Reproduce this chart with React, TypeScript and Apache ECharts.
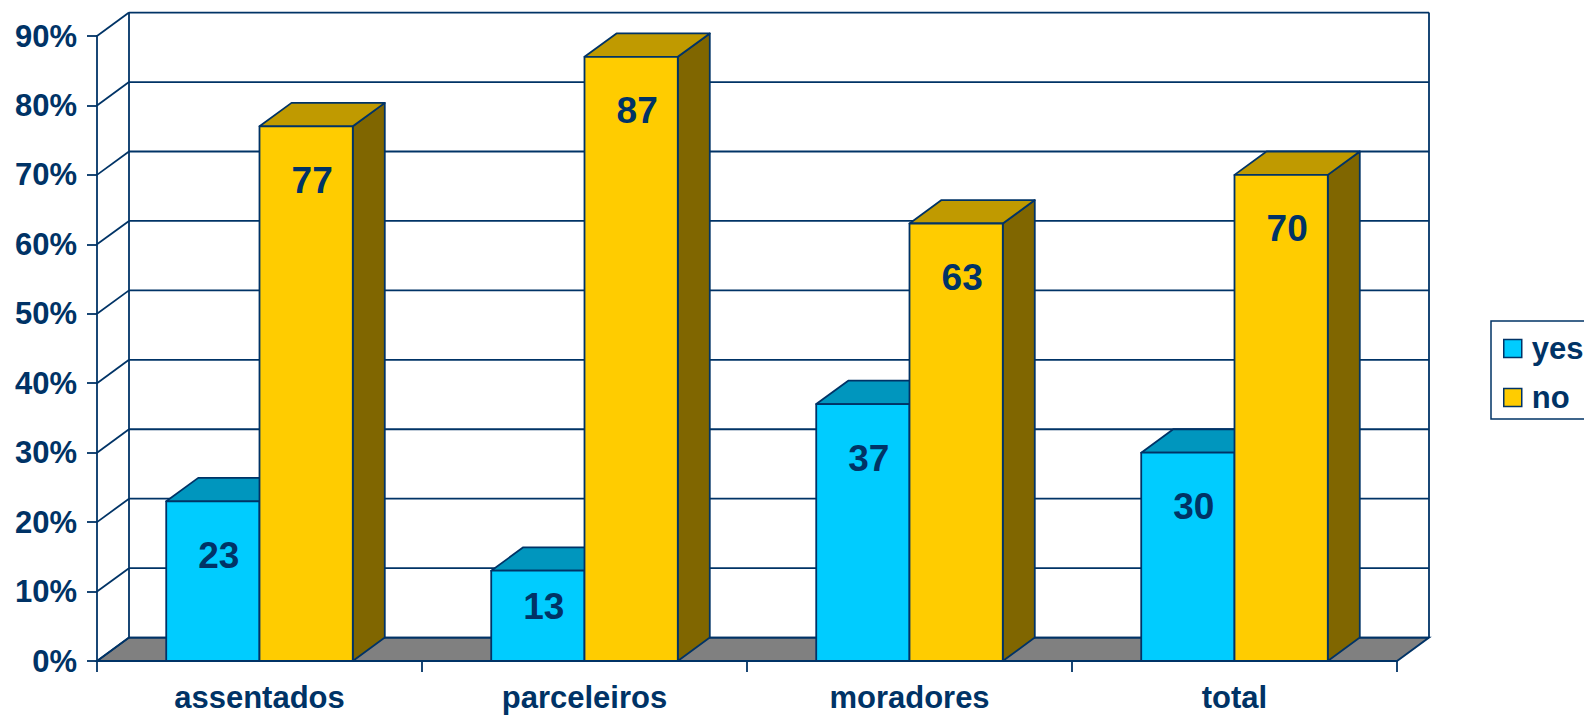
import React, { useEffect, useRef } from "react";
import * as echarts from "echarts";

const categories = ["assentados", "parceleiros", "moradores", "total"];
const yesValues = [23, 13, 37, 30];
const noValues = [77, 87, 63, 70];
const yTicks = [0, 10, 20, 30, 40, 50, 60, 70, 80, 90];
const seriesNames = ["yes", "no"];

const NAVY = "#003366";
const FONT = "'Liberation Sans', Arial, sans-serif";
const DX = 32;
const DY = -23.4;
const BAR_RATIO = 0.287;
const LW = 1.8;

function makeBarRender(side: number, front: string, top: string, sideCol: string) {
  return (params: any, api: any) => {
    const idx = api.value(0);
    const val = api.value(1);
    const tp = api.coord([idx, val]);
    const bp = api.coord([idx, 0]);
    const band = api.size([1, 0])[0];
    const w = band * BAR_RATIO;
    const xL = side === 0 ? tp[0] - w : tp[0];
    const xR = xL + w;
    const yT = tp[1];
    const yB = bp[1];
    const h = yB - yT;
    const stroke = { stroke: NAVY, lineWidth: LW, lineJoin: "round" };
    return {
      type: "group",
      children: [
        {
          type: "polygon",
          shape: { points: [[xR, yB], [xR + DX, yB + DY], [xR + DX, yT + DY], [xR, yT]] },
          style: { fill: sideCol, ...stroke },
        },
        {
          type: "polygon",
          shape: { points: [[xL, yT], [xL + DX, yT + DY], [xR + DX, yT + DY], [xR, yT]] },
          style: { fill: top, ...stroke },
        },
        {
          type: "rect",
          shape: { x: xL, y: yT, width: w, height: h },
          style: { fill: front, ...stroke },
        },
        {
          type: "text",
          x: (xL + xR) / 2 + 6,
          y: yT + Math.min(54, h * 0.4),
          style: {
            text: String(val),
            fill: NAVY,
            font: `bold 37px ${FONT}`,
            align: "center",
            verticalAlign: "middle",
          },
        },
      ],
    };
  };
}

function frameRender(params: any, api: any) {
  const band = api.size([1, 0])[0];
  const x0 = api.coord([0, 0])[0] - band / 2;
  const x1 = api.coord([categories.length - 1, 0])[0] + band / 2;
  const y0 = api.coord([0, 0])[1];
  const yTop = api.coord([0, yTicks[yTicks.length - 1]])[1];
  const ls = { stroke: NAVY, lineWidth: LW };
  const children: any[] = [];
  children.push({
    type: "polygon",
    shape: { points: [[x0, y0], [x1, y0], [x1 + DX, y0 + DY], [x0 + DX, y0 + DY]] },
    style: { fill: "#808080", stroke: NAVY, lineWidth: LW },
  });
  yTicks.forEach((v) => {
    const y = api.coord([0, v])[1];
    children.push({
      type: "line",
      shape: { x1: x0 + DX, y1: y + DY, x2: x1 + DX, y2: y + DY },
      style: ls,
    });
    children.push({
      type: "line",
      shape: { x1: x0, y1: y, x2: x0 + DX, y2: y + DY },
      style: ls,
    });
  });
  children.push({
    type: "line",
    shape: { x1: x0 + DX, y1: y0 + DY, x2: x0 + DX, y2: yTop + DY },
    style: ls,
  });
  children.push({
    type: "line",
    shape: { x1: x1 + DX, y1: y0 + DY, x2: x1 + DX, y2: yTop + DY },
    style: ls,
  });
  return { type: "group", children };
}

export default function App() {
  const ref = useRef<HTMLDivElement>(null);
  useEffect(() => {
    const chart = echarts.init(ref.current!, null, { renderer: "svg" });
    chart.setOption({
      animation: false,
      backgroundColor: "#ffffff",
      grid: { left: 97, right: 187, top: 36, bottom: 56 },
      legend: {
        data: seriesNames,
        orient: "vertical",
        left: 1491,
        top: 321,
        padding: [12, 30, 6, 12],
        itemGap: 18,
        itemWidth: 18,
        itemHeight: 18,
        icon: "rect",
        borderColor: NAVY,
        borderWidth: 1.5,
        itemStyle: { borderColor: NAVY, borderWidth: 1.5 },
        textStyle: { fontSize: 31, fontWeight: "bold", color: NAVY, fontFamily: FONT, padding: [0, 0, 0, 5] },
        selectedMode: false,
      },
      xAxis: {
        type: "category",
        data: categories,
        axisLine: { lineStyle: { color: NAVY, width: LW } },
        axisTick: { show: true, length: 11, lineStyle: { color: NAVY, width: LW } },
        axisLabel: { fontSize: 31, fontWeight: "bold", color: NAVY, fontFamily: FONT, margin: 21 },
        splitLine: { show: false },
      },
      yAxis: {
        type: "value",
        min: 0,
        max: 90,
        interval: 10,
        axisLine: { show: true, lineStyle: { color: NAVY, width: LW } },
        axisTick: { show: true, length: 10, lineStyle: { color: NAVY, width: LW } },
        axisLabel: {
          formatter: "{value}%",
          fontSize: 31,
          fontWeight: "bold",
          color: NAVY,
          fontFamily: FONT,
          margin: 20,
        },
        splitLine: { show: false },
      },
      series: [
        {
          type: "custom",
          name: "frame",
          silent: true,
          clip: false,
          z: 1,
          renderItem: frameRender,
          data: [[0, 0]],
        },
        {
          type: "custom",
          name: "yes",
          clip: false,
          z: 2,
          itemStyle: { color: "#00CCFF" },
          renderItem: makeBarRender(0, "#00CCFF", "#0096BE", "#006E8C"),
          data: yesValues.map((v, i) => [i, v]),
        },
        {
          type: "custom",
          name: "no",
          clip: false,
          z: 2,
          itemStyle: { color: "#FFCC00" },
          renderItem: makeBarRender(1, "#FFCC00", "#C09A00", "#806600"),
          data: noValues.map((v, i) => [i, v]),
        },
      ],
    });
    return () => chart.dispose();
  }, []);
  return (
    <div
      ref={ref}
      style={{ position: "fixed", left: 0, top: 0, width: 1584, height: 717 }}
    />
  );
}
